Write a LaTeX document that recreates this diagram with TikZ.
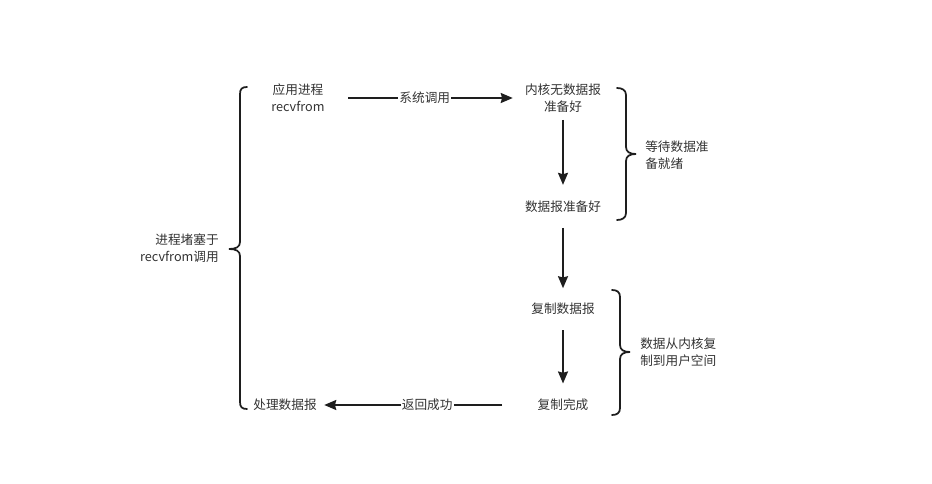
\documentclass[tikz,border=0pt]{standalone}
\usepackage{fontspec}
\setmainfont{Noto Sans CJK SC}
\usetikzlibrary{arrows.meta}
\definecolor{txt}{HTML}{333333}
\definecolor{ln}{HTML}{1E1E1E}
\tikzset{
  lbl/.style={font=\fontsize{9.5pt}{12.75pt}\selectfont, text=txt, inner sep=1.5pt, align=center},
  arr/.style={draw=ln, line width=1.35pt, -{Stealth[length=9pt,width=7.5pt,inset=1pt]}},
  brc/.style={draw=ln, line width=1.3pt, line cap=round},
  onl/.style={lbl, fill=white, inner sep=1pt}
}
\begin{document}
\begin{tikzpicture}[x=0.75pt,y=-0.75pt]
\useasboundingbox (0,0) rectangle (932,484);
\fill[white] (0,0) rectangle (932,484);

\node[lbl] (app) at (298,98) {应用进程\\recvfrom};
\node[lbl] (kern) at (563,98) {内核无数据报\\准备好};
\node[lbl] (ready) at (563,207) {数据报准备好};
\node[lbl] (copy) at (563,309) {复制数据报};
\node[lbl] (done) at (563,405) {复制完成};
\node[lbl] (proc) at (285,405) {处理数据报};

\node[lbl, align=right, anchor=east] (block) at (221,248) {进程堵塞于\\recvfrom调用};
\node[lbl, align=left, anchor=west] (wait) at (643,155) {等待数据准\\备就绪};
\node[lbl, align=left, anchor=west] (cpy) at (638,352) {数据从内核复\\制到用户空间};

\draw[arr, shorten <=16pt, shorten >=7.5pt] (app.east) -- node[onl] {系统调用} (kern.west);
\draw[arr, shorten <=4pt, shorten >=10.5pt] (kern) -- (ready);
\draw[arr, shorten <=9.5pt, shorten >=9.5pt] (ready) -- (copy);
\draw[arr, shorten <=10pt, shorten >=10pt] (copy) -- (done);
\draw[arr, shorten <=25pt, shorten >=4pt] (done.west) -- node[onl] {返回成功} (proc.east);

% left brace
\draw[brc] (247,87) .. controls (242,87) and (240,89) .. (240,94) -- (240,242)
  .. controls (240,247) and (236,249) .. (229,249)
  .. controls (236,249) and (240,251) .. (240,256) -- (240,402)
  .. controls (240,407) and (242,409) .. (247,409);
% right brace 1
\draw[brc] (617,88) .. controls (622,88) and (626,90) .. (626,95) -- (626,147)
  .. controls (626,152) and (630,154) .. (636,154)
  .. controls (630,154) and (626,156) .. (626,161) -- (626,213)
  .. controls (626,218) and (622,220) .. (617,220);
% right brace 2
\draw[brc] (612,290) .. controls (617,290) and (620,292) .. (620,297) -- (620,345)
  .. controls (620,350) and (624,352) .. (630,352)
  .. controls (624,352) and (620,354) .. (620,359) -- (620,408)
  .. controls (620,413) and (617,415) .. (612,415);
\end{tikzpicture}
\end{document}
